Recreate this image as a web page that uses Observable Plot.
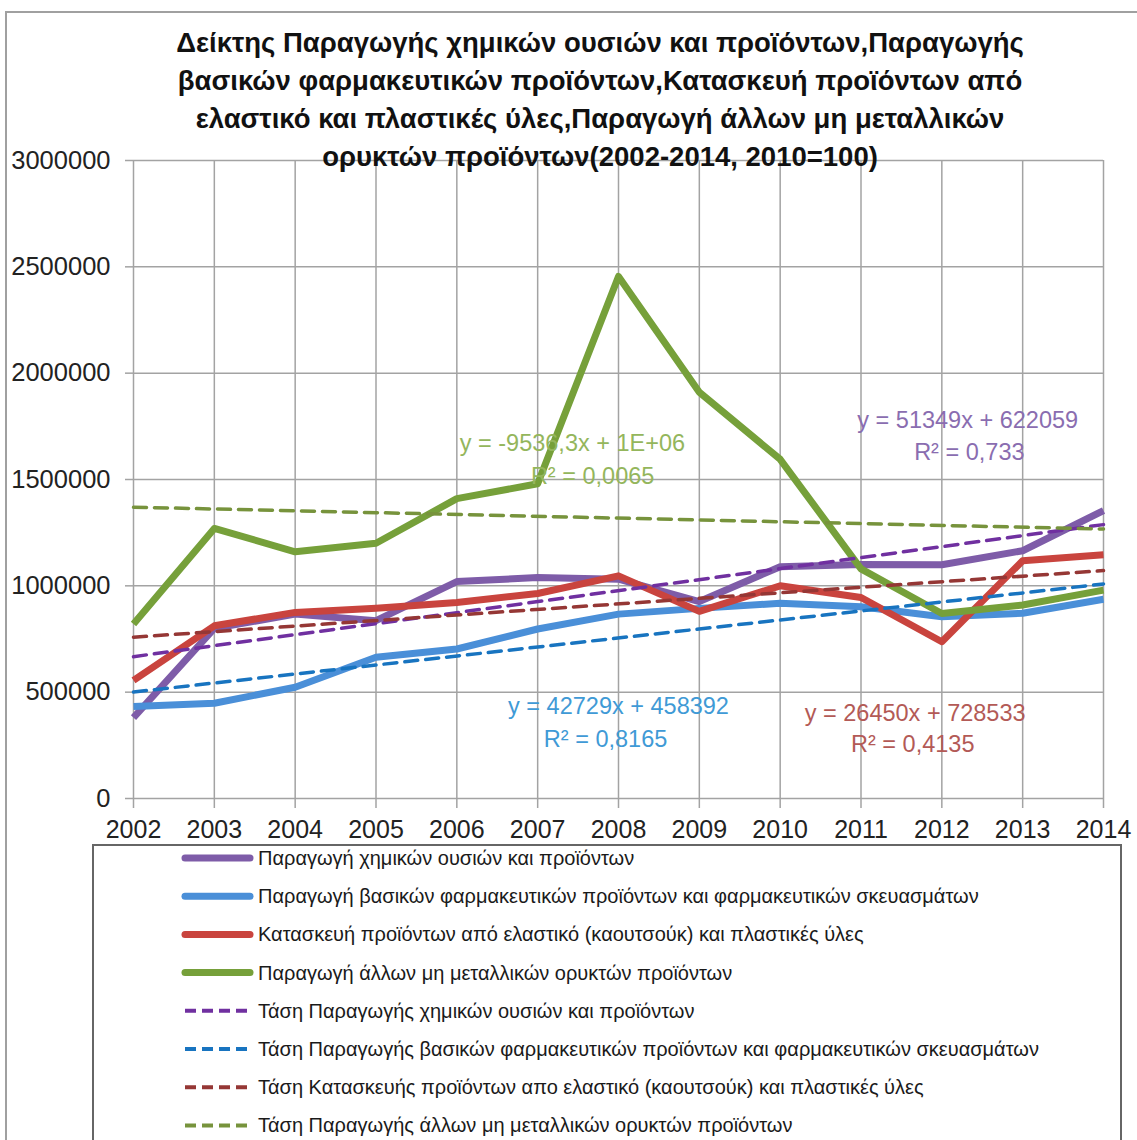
<!DOCTYPE html>
<html>
<head>
<meta charset="utf-8">
<script src="https://cdn.jsdelivr.net/npm/d3@7"></script>
<script src="https://cdn.jsdelivr.net/npm/@observablehq/plot@0.6"></script>
<style>
  body { margin: 0; background: #fff; }
  #wrap { position: relative; width: 1137px; height: 1140px; overflow: hidden; background: #fff; font-family: "Liberation Sans", Arial, sans-serif; }
  #frame { position: absolute; left: 5px; top: 11px; width: 1200px; height: 1200px; border-left: 2px solid #a0a0a0; border-top: 2px solid #a0a0a0; }
  #chart { position: absolute; left: 0; top: 0; }
  #title { position: absolute; left: 50px; width: 1100px; top: 24px; text-align: center; font-weight: bold; font-size: 27.5px; line-height: 38px; color: #111; }
  #legend { position: absolute; left: 92px; top: 844px; width: 1030px; height: 320px; border: 2px solid #666; box-sizing: border-box; }
</style>
</head>
<body>
<div id="wrap">
  <div id="frame"></div>
  <div id="chart"></div>
  <div id="title">Δείκτης Παραγωγής χημικών ουσιών και προϊόντων,Παραγωγής<br>βασικών φαρμακευτικών προϊόντων,Κατασκευή προϊόντων από<br>ελαστικό και πλαστικές ύλες,Παραγωγή άλλων μη μεταλλικών<br>ορυκτών προϊόντων(2002-2014, 2010=100)</div>
  <div id="legend"></div>
</div>
<script>
// ---- data ----
const years = [2002, 2003, 2004, 2005, 2006, 2007, 2008, 2009, 2010, 2011, 2012, 2013, 2014];
const chemicals = [380000, 800000, 867000, 836000, 1020000, 1039000, 1031000, 926000, 1090000, 1100000, 1099000, 1165000, 1354000];
const pharma    = [433000, 448000, 523000, 664000, 703000, 797000, 867000, 894000, 918000, 902000, 855000, 871000, 937000];
const rubber    = [555000, 812000, 875000, 895000, 922000, 964000, 1047000, 880000, 1000000, 945000, 737000, 1118000, 1146000];
const minerals  = [820000, 1270000, 1160000, 1200000, 1410000, 1480000, 2455000, 1910000, 1595000, 1080000, 870000, 910000, 980000];

const seriesNames = [
  "Παραγωγή χημικών ουσιών και προϊόντων",
  "Παραγωγή βασικών φαρμακευτικών προϊόντων και φαρμακευτικών σκευασμάτων",
  "Κατασκευή προϊόντων από ελαστικό (καουτσούκ) και πλαστικές ύλες",
  "Παραγωγή άλλων μη μεταλλικών ορυκτών προϊόντων"
];
const trendNames = [
  "Τάση Παραγωγής χημικών ουσιών και προϊόντων",
  "Τάση Παραγωγής βασικών φαρμακευτικών προϊόντων και φαρμακευτικών σκευασμάτων",
  "Τάση Κατασκευής προϊόντων απο ελαστικό (καουτσούκ) και πλαστικές ύλες",
  "Τάση Παραγωγής άλλων μη μεταλλικών ορυκτών προϊόντων"
];
const seriesColors = ["#7e5ca8", "#4a8fd8", "#c9443e", "#76a03a"];
const trendColors  = ["#7030a0", "#1874c0", "#953735", "#77933c"];
const yTicks = [0, 500000, 1000000, 1500000, 2000000, 2500000, 3000000];

// trend-line equation labels (text, anchor year, anchor value, colour)
const eqTexts  = ["y = -9536,3x + 1E+06", "R² = 0,0065", "y = 51349x + 622059", "R² = 0,733",
                  "y = 42729x + 458392", "R² = 0,8165", "y = 26450x + 728533", "R² = 0,4135"];
const eqYears  = [2007.43, 2007.68, 2012.32, 2012.34, 2008.0, 2007.84, 2011.67, 2011.64];
const eqValues = [1669000, 1514000, 1777000, 1627000, 432000, 277000, 400000, 254000];
const eqColors = ["#94b65c", "#94b65c", "#8a6db0", "#8a6db0", "#3f9ad6", "#3f9ad6", "#b35a56", "#b35a56"];

// ---- build tables ----
const seriesValues = [chemicals, pharma, rubber, minerals];
const table = seriesValues.flatMap((vals, i) => years.map((yr, j) => ({year: yr, value: vals[j], series: seriesNames[i]})));
const labels = eqTexts.map((t, i) => ({text: t, year: eqYears[i], value: eqValues[i], color: eqColors[i]}));

const chart = Plot.plot({
  width: 1137,
  height: 850,
  marginLeft: 133,
  marginRight: 34,
  marginTop: 160,
  marginBottom: 52,
  style: {fontFamily: "Liberation Sans, Arial, sans-serif", fontSize: "25px", color: "#222", background: "transparent"},
  x: {domain: [2002, 2014], ticks: years, tickFormat: d3.format("d")},
  y: {domain: [0, 3000000], ticks: yTicks, tickFormat: d3.format("d")},
  color: {domain: seriesNames, range: seriesColors},
  marks: [
    Plot.gridX(years, {stroke: "#a3a3a3", strokeOpacity: 1, strokeWidth: 1.5}),
    Plot.gridY(yTicks, {stroke: "#a3a3a3", strokeOpacity: 1, strokeWidth: 1.5}),
    Plot.axisX({ticks: years, tickFormat: d3.format("d"), tickSize: 10, tickPadding: 12, stroke: "#a3a3a3", strokeWidth: 1.5, label: null, fontSize: 25}),
    Plot.axisY({ticks: yTicks, tickFormat: d3.format("d"), tickSize: 8, tickPadding: 15, stroke: "#a3a3a3", strokeWidth: 1.5, label: null, fontSize: 25.5}),
    Plot.line(table, {x: "year", y: "value", z: "series", stroke: "series", strokeWidth: 7, strokeLinejoin: "round", strokeLinecap: "butt"}),
    ...seriesNames.map((name, i) =>
      Plot.linearRegressionY(table.filter(d => d.series === name), {
        x: "year", y: "value", ci: 0, stroke: trendColors[i], strokeWidth: 3.5, strokeDasharray: "13,8"
      })
    ),
    Plot.text(labels, {x: "year", y: "value", text: "text", fill: "color", fontSize: 23.5})
  ]
});
document.getElementById("chart").appendChild(chart);

// ---- legend ----
const lg = d3.select("#legend").append("svg").attr("width", 1030).attr("height", 320)
  .style("position", "absolute").style("left", "-2px").style("top", "-2px");
const legendItems = seriesNames.map((n, i) => ({name: n, color: seriesColors[i], dashed: false}))
  .concat(trendNames.map((n, i) => ({name: n, color: trendColors[i], dashed: true})));
legendItems.forEach((d, i) => {
  const cy = 14 + i * 38.2;
  lg.append("line").attr("x1", 93).attr("x2", 158).attr("y1", cy).attr("y2", cy)
    .attr("stroke", d.color).attr("stroke-width", d.dashed ? 4 : 7)
    .attr("stroke-linecap", d.dashed ? "butt" : "round")
    .attr("stroke-dasharray", d.dashed ? "11,6" : null);
  lg.append("text").attr("x", 166).attr("y", cy).attr("dy", "0.35em")
    .attr("font-size", 20).attr("fill", "#1a1a1a")
    .attr("font-family", "Liberation Sans, Arial, sans-serif").text(d.name);
});
</script>
</body>
</html>
